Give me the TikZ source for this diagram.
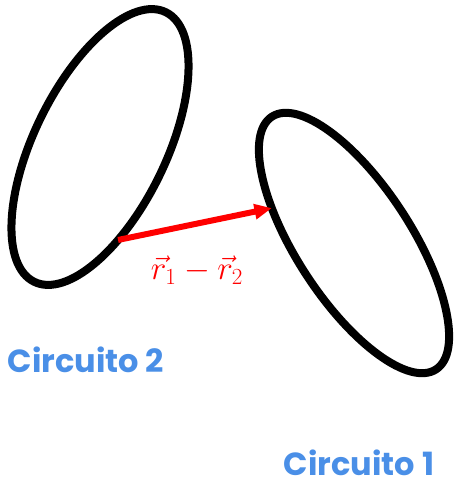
\documentclass[tikz,border=0pt]{standalone}
\usepackage{fontspec}
\newfontfamily\circfont{Poppins}
\definecolor{circBlue}{HTML}{4A8FE7}
\definecolor{vecRed}{HTML}{FF0000}
\usetikzlibrary{shapes.geometric, arrows.meta, positioning}

\begin{document}
\begin{tikzpicture}[x=0.75pt, y=-0.75pt,
  circuit/.style={ellipse, draw=black, line width=6pt, inner sep=0pt, outer sep=0pt},
  circname/.style={text=circBlue, font=\circfont\bfseries\fontsize{24}{28}\selectfont, inner sep=0pt},
  vecarrow/.style={draw=vecRed, line width=4.5pt, -{Triangle[length=13pt, width=11pt]}}]

  \useasboundingbox (0,0) rectangle (457,486);

  \node[circuit, rotate=64, minimum width=225pt, minimum height=99pt] (c2) at (100,147) {};
  \node[circuit, rotate=-57, minimum width=226pt, minimum height=86pt] (c1) at (354,243) {};

  \draw[vecarrow] (c2.-143) -- (c1.-146);
  \node[text=vecRed, font=\fontsize{26}{30}\selectfont] (r12) at (197,270) {$\vec{r}_1 - \vec{r}_2$};

  \node[circname] (n2) at (86,360) {Circuito 2};
  \node[circname] (n1) at (359,463) {Circuito 1};
\end{tikzpicture}
\end{document}
